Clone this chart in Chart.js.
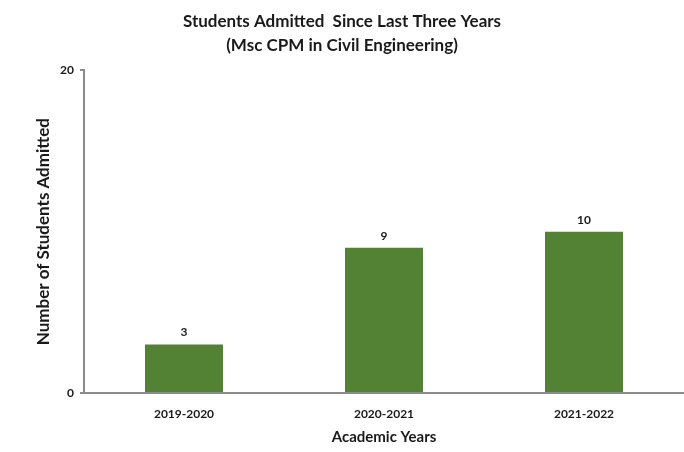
<!DOCTYPE html>
<html>
<head>
<meta charset="utf-8">
<script src="https://cdn.jsdelivr.net/npm/chart.js@4/dist/chart.umd.min.js"></script>
<style>
    html, body { margin: 0; padding: 0; background: #fff; }
    #wrap { width: 684px; height: 452px; }
</style>
</head>
<body>
<div id="wrap"><canvas id="chart" width="684" height="452"></canvas></div>
<script>
const years = ['2019-2020', '2020-2021', '2021-2022']
const admitted = [3, 9, 10]
const yTicks = [0, 20]

const font = 'Lato, "Liberation Sans", sans-serif'
const axisGrey = '#8c8c8c'

// numbers above each bar
const barLabels = {
    id: 'barLabels',
    afterDatasetsDraw(chart) {
        const ctx = chart.ctx
        const meta = chart.getDatasetMeta(0)
        ctx.save()
        ctx.font = 'bold 12px ' + font
        ctx.fillStyle = '#1a1a1a'
        ctx.textAlign = 'center'
        ctx.textBaseline = 'bottom'
        meta.data.forEach(function (bar, i) {
            ctx.fillText(String(admitted[i]), bar.x, bar.y - 6)
        })
        ctx.restore()
    }
}

let ctx = document.getElementById('chart').getContext('2d')
let chart = new Chart(ctx, {
    type: 'bar',
    data: {
        labels: years,
        datasets: [{
            label: 'Students Admitted',
            data: admitted,
            backgroundColor: '#548235',
            borderWidth: 0,
            categoryPercentage: 1,
            barPercentage: 0.39
        }]
    },
    plugins: [barLabels],
    options: {
        responsive: false,
        animation: false,
        layout: { padding: { top: 9, right: 0, left: 0, bottom: 0 } },
        plugins: {
            legend: { display: false },
            tooltip: { enabled: false },
            title: {
                display: true,
                text: ['Students Admitted  Since Last Three Years', '(Msc CPM in Civil Engineering)'],
                color: '#1a1a1a',
                font: { family: font, size: 17, weight: 'bold', lineHeight: 1.45 },
                padding: { top: 0, bottom: 12 }
            }
        },
        scales: {
            x: {
                grid: { display: false },
                border: { display: true, color: axisGrey, width: 2 },
                ticks: {
                    color: '#1a1a1a',
                    font: { family: font, size: 12, weight: 'bold' },
                    padding: 6
                },
                title: {
                    display: true,
                    text: 'Academic Years',
                    color: '#1a1a1a',
                    font: { family: font, size: 15, weight: 'bold' },
                    padding: { top: 4, bottom: 6 }
                },
                afterFit(scale) { scale.height = 59 }
            },
            y: {
                min: 0,
                max: 20,
                afterBuildTicks(scale) {
                    scale.ticks = yTicks.map(v => ({ value: v }))
                },
                grid: { drawOnChartArea: false, color: axisGrey, tickLength: 4, lineWidth: 2 },
                border: { display: true, color: axisGrey, width: 2 },
                ticks: {
                    color: '#1a1a1a',
                    font: { family: font, size: 12, weight: 'bold' },
                    padding: 6
                },
                title: {
                    display: true,
                    text: 'Number of Students Admitted',
                    color: '#1a1a1a',
                    font: { family: font, size: 17, weight: 'bold' },
                    padding: { top: 33, bottom: 10 }
                },
                afterFit(scale) { scale.width = 84 }
            }
        }
    }
})
</script>
</body>
</html>
